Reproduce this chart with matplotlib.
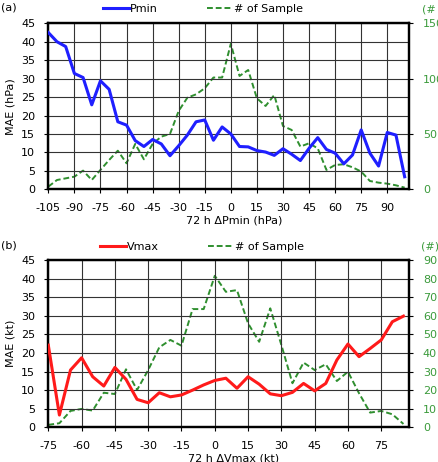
import matplotlib
matplotlib.use("Agg")
import matplotlib.pyplot as plt
import numpy as np

plt.rcParams['font.family'] = ['DejaVu Sans']
plt.rcParams['axes.unicode_minus'] = False

# Panel (a)
dp_x = list(range(-105, 101, 5))
pmin_mae = [42.5, 40.0, 38.7, 31.4, 30.3, 22.9, 29.4, 27.1, 18.3, 17.4, 13.2, 11.6, 13.5, 12.3, 9.1,
            11.8, 14.7, 18.3, 18.8, 13.3, 16.9, 15.0, 11.6, 11.5, 10.5, 10.1, 9.2, 11.0, 9.5, 7.8,
            11.1, 14.0, 10.8, 9.8, 6.9, 9.3, 16.1, 9.8, 6.3, 15.4, 14.7, 3.4]
pmin_n = [2.4, 8.4, 9.9, 11.4, 16.9, 8.4, 17.5, 26.5, 34.9, 23.5, 41, 27.1, 41, 47.6, 50,
          70.8, 82.8, 85.8, 91.3, 101, 101, 131.5, 102.4, 107.8, 82.2, 75.3, 85.2, 57.2, 53.6, 38.6,
          41.6, 37, 17.5, 22, 22.6, 19.9, 16, 7.5, 6, 5.1, 3.6, 1.5]

# Panel (b)
dv_x = list(range(-75, 86, 5))
vmax_mae = [22.1, 3.3, 15.4, 18.7, 13.6, 11.1, 16.1, 12.9, 7.5, 6.6, 9.3, 8.2, 8.7, 10.0, 11.4,
            12.6, 13.2, 10.5, 13.6, 11.6, 9.0, 8.5, 9.4, 11.8, 9.8, 11.8, 18.1, 22.4, 19.0, 21.2,
            23.5, 28.4, 29.9]
vmax_n = [1.3, 2.2, 8.8, 9.9, 9.0, 18.6, 17.9, 31.2, 20.1, 30.8, 43, 47, 43.9, 63.6, 63.6,
          81.5, 72.9, 73.8, 55.9, 46, 64, 44.3, 23.7, 34.8, 30.8, 33.9, 24.9, 29.9, 18.3, 7.9,
          8.8, 7.0, 1.8]

BLUE = '#1f1fff'
RED = '#ff1a1a'
GREEN = '#2f8f2f'
GTEXT = '#3a9a3a'
FS = 8

W, H = 439, 462
fig = plt.figure(figsize=(W / 100, H / 100), dpi=100)


def panel(rect, x, mae, n, mae_color, mae_label, xlim, xticks, nmax, nticks, xlabel, ylabel,
          leg_xy, tag_xy, tag, hash_xy, hash_text):
    ax = fig.add_axes(rect)
    ax2 = ax.twinx()
    ax.set_zorder(ax2.get_zorder() + 1)
    ax.patch.set_visible(False)
    l1, = ax.plot(x, mae, color=mae_color, lw=2.2, label=mae_label, zorder=5)
    l2, = ax2.plot(x, n, color=GREEN, lw=1.4, ls=(0, (3.0, 1.5)), label='# of Sample')
    ax.set_xlim(*xlim)
    ax.set_ylim(0, 45)
    ax2.set_ylim(0, nmax)
    ax.set_xticks(xticks)
    ax.set_yticks(np.arange(0, 46, 5))
    ax2.set_yticks(nticks)
    ax.grid(True, color='#333333', lw=0.8)
    ax.tick_params(length=3, width=0.8, labelsize=FS, pad=7)
    ax.tick_params(axis='y', pad=6.5)
    ax2.tick_params(length=3, width=0.8, labelsize=FS, labelcolor=GTEXT, pad=7)
    for a in (ax, ax2):
        for s in a.spines.values():
            s.set_linewidth(1.6)
            s.set_color('black')
    ax.set_xlabel(xlabel, fontsize=FS)
    ax.xaxis.set_label_coords(0.515, -0.185)
    ax.xaxis.label.set_va('center')
    ax.set_ylabel(ylabel, fontsize=FS)
    ax.yaxis.set_label_coords(-0.106, 0.5)
    ax.yaxis.label.set_va('center')
    fig.legend([l1, l2], [mae_label, '# of Sample'], loc='center left',
               bbox_to_anchor=(leg_xy[0] / W, 1 - leg_xy[1] / H), bbox_transform=fig.transFigure,
               ncol=2, frameon=False, fontsize=FS, handlelength=2.3, handletextpad=0.15,
               columnspacing=4.4, borderaxespad=0, borderpad=0)
    fig.text(tag_xy[0] / W, 1 - tag_xy[1] / H, tag, fontsize=FS, va='center', ha='left')
    fig.text(hash_xy[0] / W, 1 - hash_xy[1] / H, hash_text, fontsize=FS, va='center', ha='left',
             color=GTEXT)
    return ax, ax2


def rect(x0, y0, x1, y1):
    return [x0 / W, 1 - y1 / H, (x1 - x0) / W, (y1 - y0) / H]


panel(rect(48.3, 23.3, 409, 189.3), dp_x, pmin_mae, pmin_n, BLUE, 'Pmin',
      (-105, 102.5), list(range(-105, 91, 15)), 150, [0, 50, 100, 150],
      '72 h ΔPmin (hPa)', 'MAE (hPa)', (103, 9), (1, 7), '(a)', (422, 10), '(#')
panel(rect(48.3, 260, 409, 427.3), dv_x, vmax_mae, vmax_n, RED, 'Vmax',
      (-75, 87.5), list(range(-75, 76, 15)), 90, list(range(0, 91, 10)),
      '72 h ΔVmax (kt)', 'MAE (kt)', (100, 246.7), (1, 245), '(b)', (421, 246.7), '(#)')

fig.savefig('out.png', dpi=100)
